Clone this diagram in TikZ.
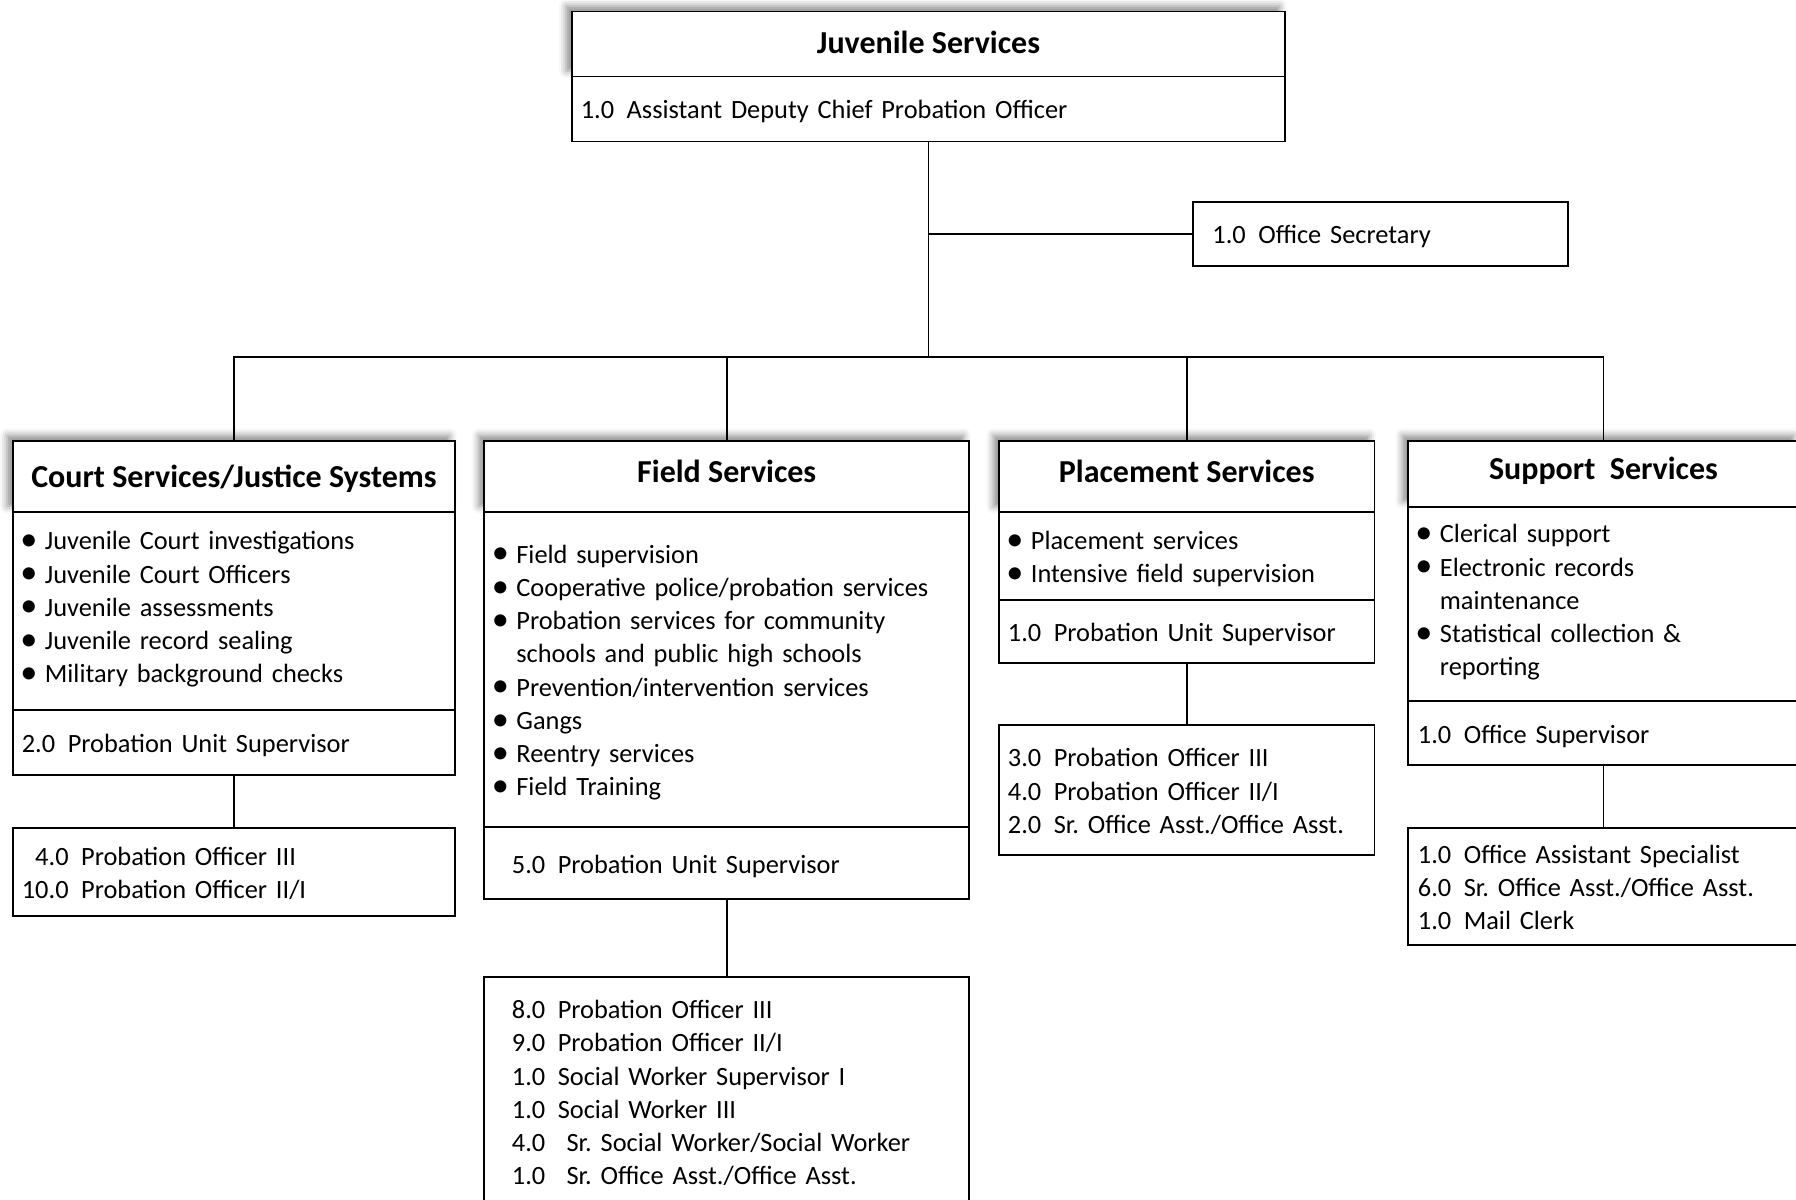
\documentclass[tikz,border=0pt]{standalone}
\usepackage{fontspec}
\usepackage{graphicx}
\setmainfont{Carlito}
\usetikzlibrary{positioning,shadows.blur}
\frenchspacing
\newcommand\bul{\makebox[0.245cm][l]{\raisebox{-0.2pt}{\scalebox{1.3}{\textbullet}}}}
\newcommand\ind{\hspace*{0.245cm}}
\newcommand\gap{\hspace{0.125cm}}
\newcommand\stt{\rule[-1.9pt]{0pt}{9.45pt}}
\newcommand\dn{\rule[-4.6pt]{0pt}{0pt}}

\begin{document}
\begin{tikzpicture}[
  x=0.01cm, y=-0.01cm,
  every node/.style={draw, line width=0.5pt, fill=white, inner ysep=0pt, outer sep=0pt,
    font=\fontsize{7.5pt}{9.45pt}\selectfont,
    execute at begin node=\stt, execute at end node=\stt},
  head/.style={font=\fontsize{9.1pt}{11pt}\selectfont\bfseries, anchor=north,
    text height=0.21cm, text depth=#1,
    blur shadow={shadow xshift=-1.6pt, shadow yshift=1.6pt, shadow blur radius=2pt, shadow opacity=45}},
  head/.default=0.10cm,
  line/.style={line width=0.5pt}
]
  \useasboundingbox (0,0) rectangle (1796,1200);

  % top
  \node[head=0.03cm, minimum width=7.13cm, minimum height=0.65cm] (js) at (928.5,11.5) {Juvenile Services};
  \node[below=0pt of js, minimum width=7.13cm, minimum height=0.65cm, text width=6.95cm, inner xsep=0.09cm, align=left] (adcpo)
    {1.0\gap Assistant Deputy Chief Probation Officer};
  \node[minimum width=3.75cm, minimum height=0.64cm, text width=3.36cm, inner xsep=0.195cm, align=left] (sec) at (1380.5,234)
    {1.0\gap Office Secretary};

  % court services
  \node[head=0cm, minimum width=4.42cm, minimum height=0.71cm] (court) at (234,441) {Court Services/Justice Systems};
  \node[below=0pt of court, minimum width=4.42cm, minimum height=1.98cm, text width=4.27cm, inner xsep=0.075cm, align=left] (courtlist)
    {\bul Juvenile Court investigations\\
     \bul Juvenile Court Officers\\
     \bul Juvenile assessments\\
     \bul Juvenile record sealing\\
     \bul Military background checks\dn};
  \node[below=0pt of courtlist, minimum width=4.42cm, minimum height=0.65cm, text width=4.24cm, inner xsep=0.09cm, align=left] (courtsup)
    {2.0\gap Probation Unit Supervisor};
  \node[below=0.53cm of courtsup, minimum width=4.42cm, minimum height=0.88cm, text width=4.24cm, inner xsep=0.09cm, align=left] (courtpo)
    {\hphantom{1}4.0\gap Probation Officer III\\
     10.0\gap Probation Officer II/I};

  % field services
  \node[head, minimum width=4.845cm, minimum height=0.71cm] (field) at (726.75,441) {Field Services};
  \node[below=0pt of field, minimum width=4.845cm, minimum height=3.15cm, text width=4.695cm, inner xsep=0.075cm, align=left] (fieldlist)
    {\bul Field supervision\\
     \bul Cooperative police/probation services\\
     \bul Probation services for community\\
     \ind schools and public high schools\\
     \bul Prevention/intervention services\\
     \bul Gangs\\
     \bul Reentry services\\
     \bul Field Training};
  \node[below=0pt of fieldlist, minimum width=4.845cm, minimum height=0.72cm, text width=4.295cm, inner xsep=0.275cm, align=left] (fieldsup)
    {5.0\gap Probation Unit Supervisor};
  \node[below=0.78cm of fieldsup, minimum width=4.845cm, minimum height=2.29cm, text width=4.295cm, inner xsep=0.275cm, align=left] (fieldpo)
    {8.0\gap Probation Officer III\\
     9.0\gap Probation Officer II/I\\
     1.0\gap Social Worker Supervisor I\\
     1.0\gap Social Worker III\\
     4.0\gap\ Sr. Social Worker/Social Worker\\
     1.0\gap\ Sr. Office Asst./Office Asst.};

  % placement services
  \node[head, minimum width=3.755cm, minimum height=0.71cm] (place) at (1186.75,441) {Placement Services};
  \node[below=0pt of place, minimum width=3.755cm, minimum height=0.88cm, text width=3.605cm, inner xsep=0.075cm, align=left] (placelist)
    {\bul Placement services\\
     \bul Intensive field supervision};
  \node[below=0pt of placelist, minimum width=3.755cm, minimum height=0.63cm, text width=3.575cm, inner xsep=0.09cm, align=left] (placesup)
    {1.0\gap Probation Unit Supervisor};
  \node[below=0.62cm of placesup, minimum width=3.755cm, minimum height=1.30cm, text width=3.575cm, inner xsep=0.09cm, align=left] (placepo)
    {3.0\gap Probation Officer III\\
     4.0\gap Probation Officer II/I\\
     2.0\gap Sr. Office Asst./Office Asst.};

  % support services
  \node[head, minimum width=3.91cm, minimum height=0.66cm] (support) at (1603.5,441) {Support~~Services};
  \node[below=0pt of support, minimum width=3.91cm, minimum height=1.94cm, text width=3.76cm, inner xsep=0.075cm, align=left] (supportlist)
    {\bul Clerical support\\
     \bul Electronic records\\
     \ind maintenance\\
     \bul Statistical collection \&\\
     \ind reporting\dn};
  \node[below=0pt of supportlist, minimum width=3.91cm, minimum height=0.64cm, text width=3.71cm, inner xsep=0.10cm, align=left] (supportsup)
    {1.0\gap Office Supervisor};
  \node[below=0.63cm of supportsup, minimum width=3.91cm, minimum height=1.17cm, text width=3.71cm, inner xsep=0.10cm, align=left] (supportpo)
    {1.0\gap Office Assistant Specialist\\
     6.0\gap Sr. Office Asst./Office Asst.\\
     1.0\gap Mail Clerk};

  % connectors
  \coordinate (bus) at (adcpo.south |- 0,357);
  \draw[line] (adcpo.south) -- (bus);
  \draw[line] (sec.west) -- (sec.west -| adcpo.south);
  \draw[line] (court.north) |- (bus) -| (support.north);
  \draw[line] (field.north) -- (field.north |- bus);
  \draw[line] (place.north) -- (place.north |- bus);
  \draw[line] (courtsup) -- (courtpo);
  \draw[line] (fieldsup) -- (fieldpo);
  \draw[line] (placesup) -- (placepo);
  \draw[line] (supportsup) -- (supportpo);
\end{tikzpicture}
\end{document}
